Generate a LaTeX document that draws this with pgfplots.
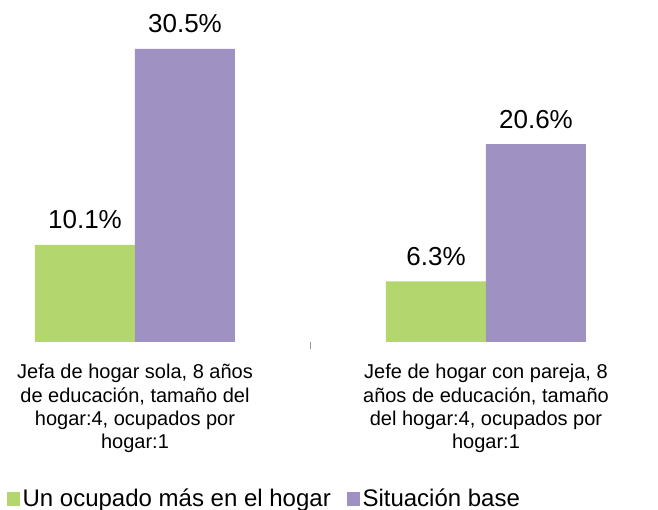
\documentclass[border=0pt]{standalone}
\usepackage{fontspec}
\setmainfont{Liberation Sans}
\usepackage{pgfplots}
\pgfplotsset{compat=1.18}
\definecolor{cgreen}{RGB}{179,214,110}
\definecolor{cpurple}{RGB}{159,145,194}
\begin{document}
\begin{tikzpicture}
\begin{axis}[
  name=ax,
  at={(0,0)}, anchor=south west,
  scale only axis,
  x=263.25pt, y=7.205pt,
  xmin=-0.3846, xmax=1.490,
  ymin=0, ymax=35.6,
  ybar=0pt, bar width=75pt,
  axis line style={draw=none},
  hide y axis,
  xtick={0,1},
  xtick pos=left,
  xtick style={draw=none},
  xticklabels={{Jefa de hogar sola, 8 años\\de educación, tamaño del\\hogar:4, ocupados por\\hogar:1},
               {Jefe de hogar con pareja, 8\\años de educación, tamaño\\del hogar:4, ocupados por\\hogar:1}},
  xticklabel style={font=\fontsize{15}{17.5}\selectfont, align=center, anchor=north, yshift=-9pt},
  extra x ticks={0.5},
  extra x tick labels={},
  extra x tick style={xtick style={draw=gray!80, line width=0.6pt}, major tick length=5.25pt, tick align=outside},
  point meta=explicit symbolic,
  nodes near coords,
  nodes near coords style={font=\fontsize{19.5}{23}\selectfont, anchor=base, yshift=12pt, inner sep=0pt},
  legend columns=2,
  legend style={at={(0.0102,-0.459)}, anchor=west, draw=none, fill=none, inner sep=0pt,
    font=\fontsize{18}{21}\selectfont,
    nodes={inner sep=2pt},
    /tikz/every even column/.append style={column sep=10pt}},
  legend image code/.code={\fill[#1, draw=none] (0pt,-4.9pt) rectangle (9.75pt,4.9pt);},
]
\addplot[fill=cgreen, draw=none] coordinates {(0,10.1) [10.1\%] (1,6.3) [6.3\%]};
\addplot[fill=cpurple, draw=none] coordinates {(0,30.5) [30.5\%] (1,20.6) [20.6\%]};
\legend{Un ocupado más en el hogar, Situación base}
\end{axis}
\pgfresetboundingbox
\path[use as bounding box] (ax.south west) ++(0,-126pt) rectangle ++(493.5pt,382.5pt);
\end{tikzpicture}
\end{document}
